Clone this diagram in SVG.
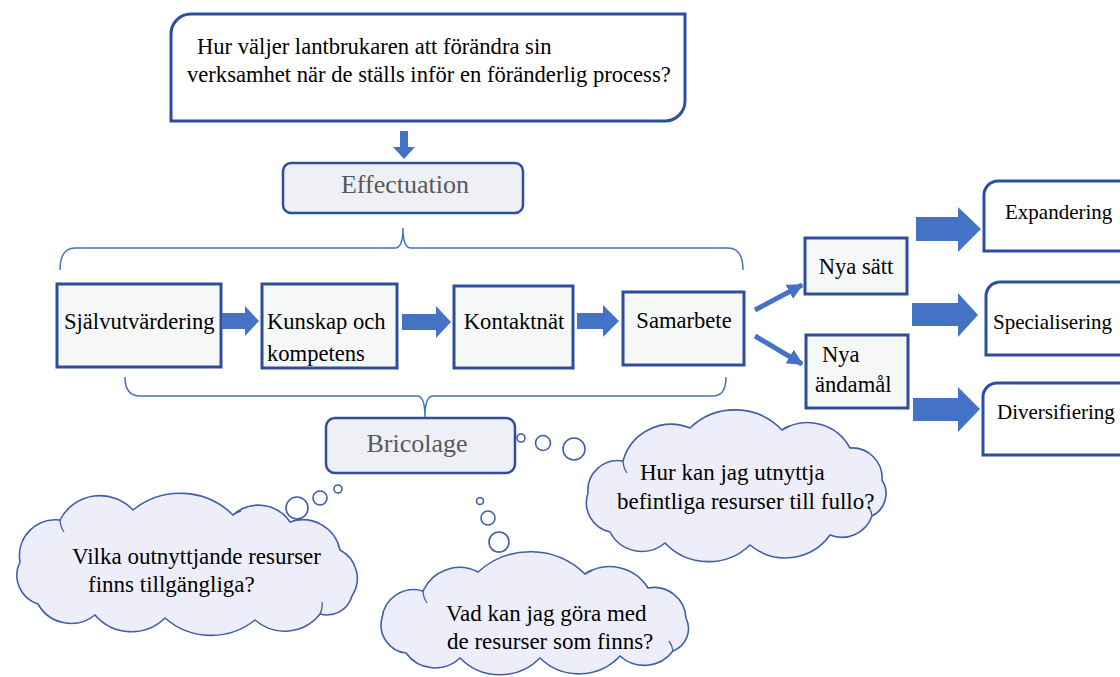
<svg xmlns="http://www.w3.org/2000/svg" width="1120" height="677" viewBox="0 0 1120 677">
<style>
.t{font-family:"Liberation Serif","Times New Roman",serif;font-size:22.6px;fill:#000}
.c{font-family:"Liberation Serif","Times New Roman",serif;font-size:23px;fill:#000}
.r{font-family:"Liberation Serif","Times New Roman",serif;font-size:21px;fill:#000}
.g{font-family:"Liberation Serif","Times New Roman",serif;font-size:26px;fill:#595959}
.box{fill:#F6F8F8;stroke:#2E4D9C;stroke-width:3}
.rbox{fill:#FFFFFF;stroke:#2E4D9C;stroke-width:3}
.pill{fill:#EEF0F5;stroke:#2E4D9C;stroke-width:2.5}
.blk{fill:#4472C4}
.brace{fill:none;stroke:#4472C4;stroke-width:1.5}
.cloud{fill:#EEEEFA;stroke:#3F5FA8;stroke-width:1.6}
.curl{fill:none;stroke:#3F5FA8;stroke-width:1.3}
.bub{fill:#FFFFFF;stroke:#3F5FA8;stroke-width:1.6}
.ln{stroke:#4472C4;stroke-width:5;fill:none}
</style>
<defs>
<marker id="ah" viewBox="0 0 10 10" refX="9" refY="5" markerWidth="3.2" markerHeight="3.2" orient="auto" markerUnits="strokeWidth">
<path d="M0,0 L10,5 L0,10 Z" fill="#4472C4"/>
</marker>
</defs>
<rect width="1120" height="677" fill="#FFFFFF"/>

<g id="question">
<path d="M191,14 H685 V101 A20,20 0 0 1 665,121 H171 V34 A20,20 0 0 1 191,14 Z" fill="#FFFFFF" stroke="#2E4D9C" stroke-width="3"/>
<text class="t" x="197" y="54">Hur väljer lantbrukaren att förändra sin</text>
<text class="t" x="187" y="82">verksamhet när de ställs inför en föränderlig process?</text>
</g>

<g id="effectuation">
<rect class="pill" x="283" y="163" width="240" height="50" rx="8"/>
<text class="g" x="405" y="193" text-anchor="middle">Effectuation</text>
</g>

<g id="sjalvutvardering">
<rect class="box" x="57" y="284" width="164" height="83"/>
<text class="t" x="64" y="329">Självutvärdering</text>
</g>
<g id="kunskap">
<rect class="box" x="262" y="284" width="135" height="84"/>
<text class="t" x="267" y="329">Kunskap och</text>
<text class="t" x="267" y="361">kompetens</text>
</g>
<g id="kontaktnat">
<rect class="box" x="454" y="286" width="119" height="82"/>
<text class="t" x="514" y="329" text-anchor="middle">Kontaktnät</text>
</g>
<g id="samarbete">
<rect class="box" x="623" y="292" width="121" height="73"/>
<text class="t" x="684" y="328" text-anchor="middle">Samarbete</text>
</g>

<g id="bricolage">
<rect class="pill" x="326" y="418" width="189" height="55" rx="9"/>
<text class="g" x="417" y="452" text-anchor="middle">Bricolage</text>
</g>

<g id="nya-satt">
<rect class="box" x="805" y="238" width="102" height="56"/>
<text class="t" x="856" y="274" text-anchor="middle">Nya sätt</text>
</g>
<g id="nya-andamal">
<rect class="box" x="806" y="335" width="102" height="73"/>
<text class="t" x="822" y="362">Nya</text>
<text class="t" x="815" y="392">ändamål</text>
</g>

<g id="expandering">
<path class="rbox" d="M998,181 H1125 V251 H984 V195 A14,14 0 0 1 998,181 Z"/>
<text class="r" x="1005" y="219">Expandering</text>
</g>
<g id="specialisering">
<path class="rbox" d="M1000,282 H1125 V355 H986 V296 A14,14 0 0 1 1000,282 Z"/>
<text class="r" x="993" y="329">Specialisering</text>
</g>
<g id="diversifiering">
<path class="rbox" d="M997,383 H1125 V455 H983 V397 A14,14 0 0 1 997,383 Z"/>
<text class="r" x="997" y="419">Diversifiering</text>
</g>

<g id="connectors">
<path class="blk" d="M400,131 H408 V147 H415 L404,159 L393,147 H400 Z"/>
<path class="brace" d="M60,270 Q60,248 75,248 H395 Q403,248 403,228 Q403,248 411,248 H728 Q743,248 743,270"/>
<path class="brace" d="M125,377 Q125,396 140,396 H417 Q425,396 425,417 Q425,396 433,396 H713 Q726,396 726,377"/>
<path class="blk" d="M222,313 H245 V306 L259,321 L245,336 V329 H222 Z"/>
<path class="blk" d="M402,314 H436 V306 L451,322 L436,338 V330 H402 Z"/>
<path class="blk" d="M577,313 H603 V305 L619,321 L603,337 V329 H577 Z"/>
<line class="ln" x1="755" y1="310" x2="802" y2="285" marker-end="url(#ah)"/>
<line class="ln" x1="755" y1="336" x2="802" y2="364" marker-end="url(#ah)"/>
<path class="blk" d="M916,217 H958 V207 L981,229 L958,252 V241 H916 Z"/>
<path class="blk" d="M912,303 H958 V293 L978,315 L958,337 V326 H912 Z"/>
<path class="blk" d="M913,398 H958 V387 L980,409 L958,432 V421 H913 Z"/>
</g>

<g id="cloud-1">
<path class="cloud" d="M38,604 A30,30 0 0 1 20,562 A36,36 0 0 1 60,520 A45,45 0 0 1 133,510 A75,75 0 0 1 233,515 A38,38 0 0 1 290,522 A38,38 0 0 1 340,550 A32,32 0 0 1 352,596 A26,26 0 0 1 320,614 A45,45 0 0 1 255,620 A70,70 0 0 1 165,618 A48,48 0 0 1 95,615 A38,38 0 0 1 38,604 Z"/>
<path class="curl" d="M60,520 A22,22 0 0 0 64,532 M233,515 A20,20 0 0 1 241,511 M320,614 A20,20 0 0 0 322,602"/>
<circle class="bub" cx="297" cy="508" r="11"/>
<circle class="bub" cx="320" cy="498" r="7"/>
<circle class="bub" cx="338" cy="489" r="4"/>
<text class="c" x="72" y="564">Vilka outnyttjande resurser</text>
<text class="c" x="88" y="592">finns tillgängliga?</text>
</g>

<g id="cloud-2">
<path class="cloud" d="M610,532 A30,30 0 0 1 588,493 A30,30 0 0 1 623,461 A50,50 0 0 1 690,428 A65,65 0 0 1 782,430 A48,48 0 0 1 850,448 A30,30 0 0 1 882,480 A25,25 0 0 1 872,516 A32,32 0 0 1 830,535 A55,55 0 0 1 750,545 A60,60 0 0 1 665,543 A36,36 0 0 1 610,532 Z"/>
<path class="curl" d="M623,461 A22,22 0 0 0 627,473 M782,430 A18,18 0 0 1 790,426 M872,516 A20,20 0 0 0 868,506"/>
<circle class="bub" cx="521" cy="438" r="4"/>
<circle class="bub" cx="543" cy="443" r="7.5"/>
<circle class="bub" cx="574" cy="449" r="11"/>
<text class="c" x="640" y="480">Hur kan jag utnyttja</text>
<text class="c" x="617" y="509">befintliga resurser till fullo?</text>
</g>

<g id="cloud-3">
<path class="cloud" d="M406,653 A28,28 0 0 1 382,618 A32,32 0 0 1 423,591 A40,40 0 0 1 478,572 A78,78 0 0 1 585,574 A45,45 0 0 1 648,588 A32,32 0 0 1 686,618 A24,24 0 0 1 673,651 A36,36 0 0 1 620,656 A56,56 0 0 1 540,658 A56,56 0 0 1 460,658 A36,36 0 0 1 406,653 Z"/>
<path class="curl" d="M423,591 A22,22 0 0 0 427,603 M585,574 A18,18 0 0 1 593,570 M673,651 A20,20 0 0 0 669,641"/>
<circle class="bub" cx="480" cy="501" r="3.5"/>
<circle class="bub" cx="488" cy="518" r="7"/>
<circle class="bub" cx="499" cy="542" r="10"/>
<text class="c" x="446" y="621">Vad kan jag göra med</text>
<text class="c" x="447" y="649">de resurser som finns?</text>
</g>
</svg>
